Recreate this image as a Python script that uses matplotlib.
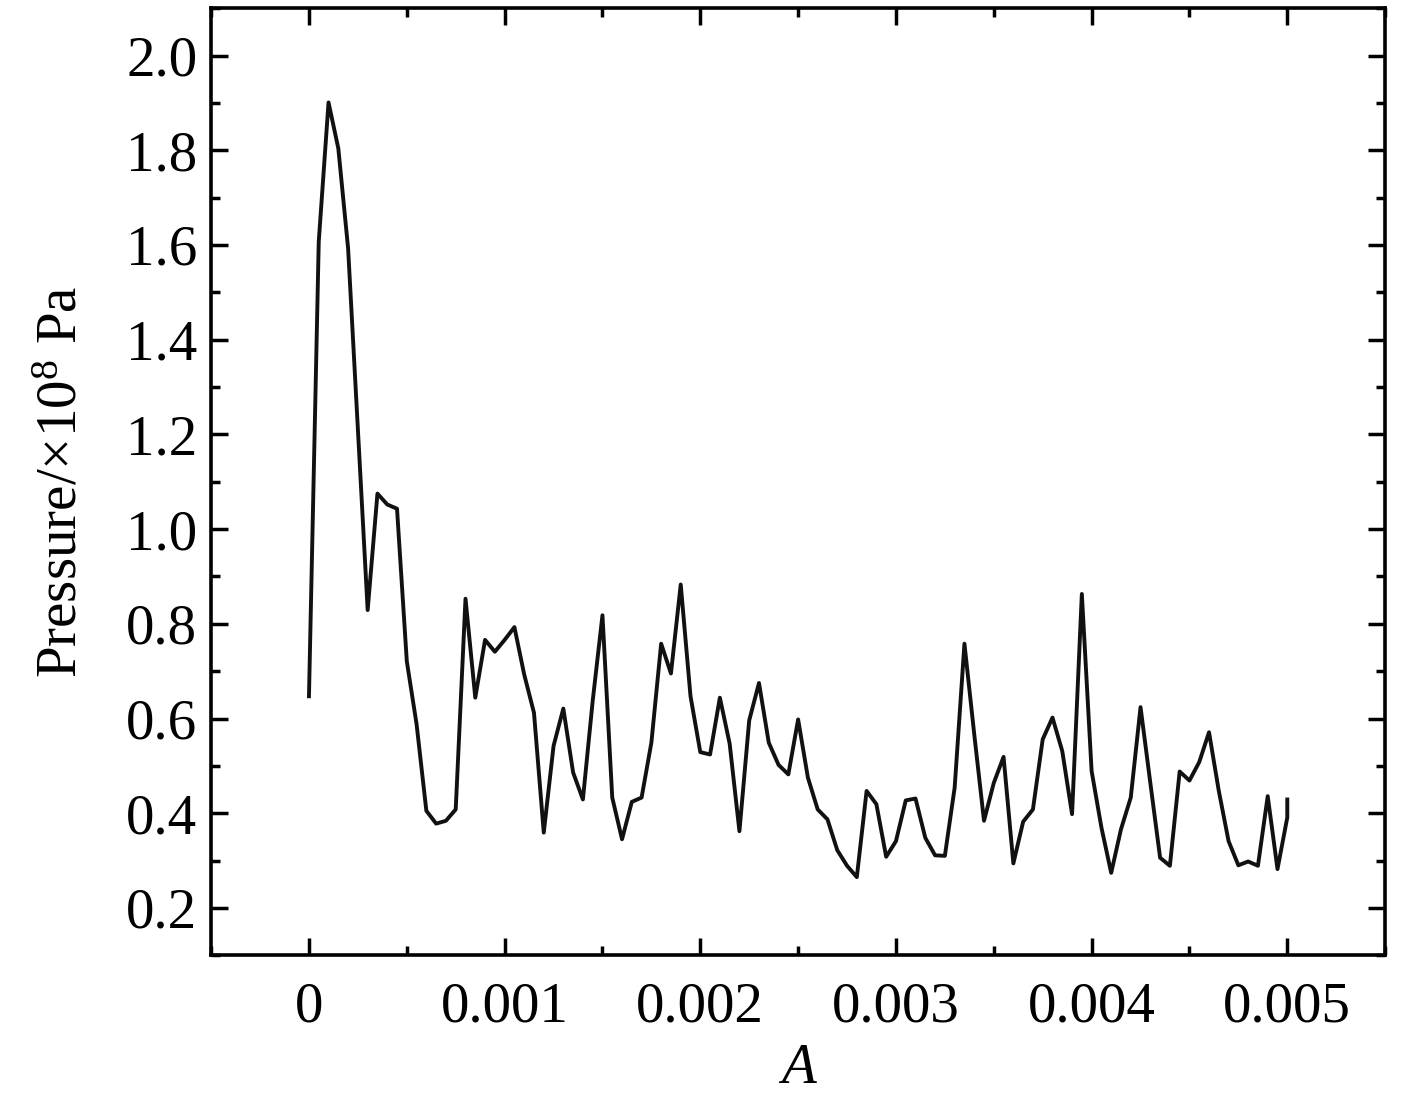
import numpy as np
import matplotlib.pyplot as plt
from matplotlib.ticker import MultipleLocator

# tlak u ovisnosti o A, ocitano sa slike (korak 0.00005)
A_step = 0.00005
P = [0.647, 1.607, 1.901, 1.804, 1.593, 1.211, 0.829, 1.075, 1.052, 1.043,
     0.721, 0.588, 0.405, 0.378, 0.384, 0.408, 0.853, 0.644, 0.766, 0.741,
     0.766, 0.793, 0.693, 0.612, 0.359, 0.542, 0.621, 0.486, 0.429, 0.637,
     0.818, 0.433, 0.345, 0.424, 0.433, 0.549, 0.758, 0.695, 0.883, 0.647,
     0.529, 0.524, 0.644, 0.547, 0.362, 0.596, 0.675, 0.549, 0.502, 0.482,
     0.598, 0.475, 0.408, 0.387, 0.322, 0.289, 0.265, 0.447, 0.419, 0.308,
     0.341, 0.427, 0.431, 0.348, 0.311, 0.310, 0.454, 0.758, 0.567, 0.384,
     0.464, 0.519, 0.294, 0.382, 0.408, 0.556, 0.602, 0.531, 0.398, 0.863,
     0.489, 0.370, 0.274, 0.366, 0.433, 0.624, 0.464, 0.306, 0.289, 0.488,
     0.469, 0.508, 0.571, 0.447, 0.341, 0.290, 0.298, 0.289, 0.436, 0.282,
     0.391]
P_end = 0.429  # zadnja tocka, ista vrijednost A
A = [i*A_step for i in range(len(P))] + [0.005]
P = P + [P_end]

x_ticks = [0, 0.001, 0.002, 0.003, 0.004, 0.005]
x_labels = ['0', '0.001', '0.002', '0.003', '0.004', '0.005']
y_ticks = [0.2, 0.4, 0.6, 0.8, 1.0, 1.2, 1.4, 1.6, 1.8, 2.0]

plt.rcParams.update({'font.family': 'Liberation Serif',
                     'mathtext.fontset': 'custom',
                     'mathtext.rm': 'Liberation Serif',
                     'mathtext.it': 'Liberation Serif:italic',
                     'font.size': 41})

fig = plt.figure(figsize=(14.17, 10.98), dpi=100)
axes = fig.add_axes([0.149, 0.130, 0.8285, 0.8625])
axes.plot(A, P, lw=2.8, color='#111111')
axes.set_xlim(-0.0005, 0.0055)
axes.set_ylim(0.1, 2.1)
axes.set_xticks(x_ticks)
axes.set_xticklabels(x_labels)
axes.set_yticks(y_ticks)
axes.set_yticklabels(['%.1f' % v for v in y_ticks])
axes.xaxis.set_minor_locator(MultipleLocator(0.0005))
axes.yaxis.set_minor_locator(MultipleLocator(0.1))
axes.tick_params(which='both', direction='in', top=True, right=True, width=2.5)
axes.tick_params(which='major', length=12)
axes.tick_params(axis='y', which='major', pad=10)
axes.tick_params(axis='x', which='major', pad=19)
axes.tick_params(which='minor', length=6.5)
for s in axes.spines.values():
    s.set_linewidth(2.6)
axes.set_xlabel('$A$', labelpad=7)
axes.set_ylabel('Pressure/×10$^{8}$ Pa', labelpad=27)
fig.savefig('out.png', dpi=100)
